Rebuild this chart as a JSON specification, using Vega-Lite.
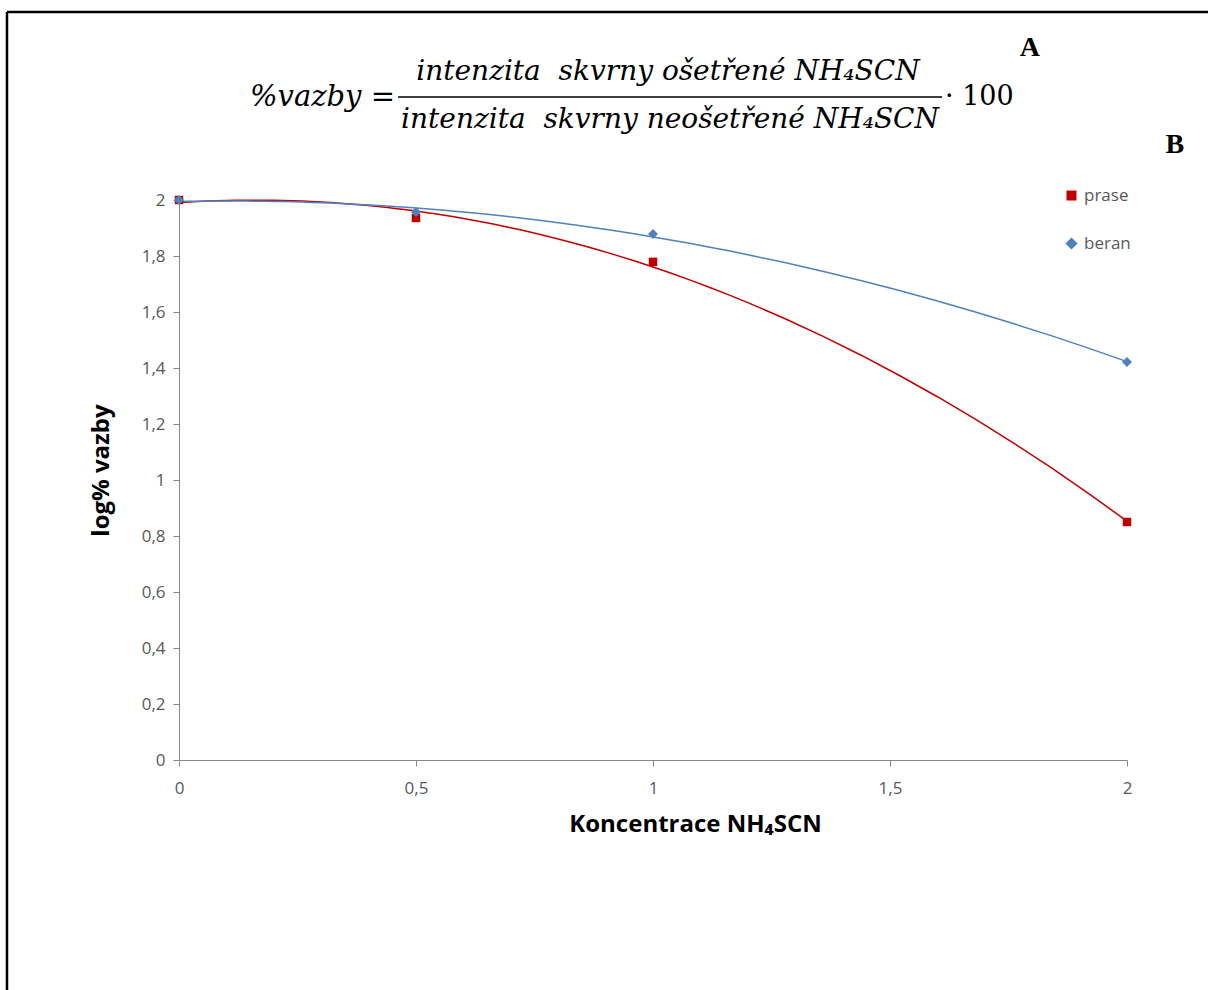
{
  "$schema": "https://vega.github.io/schema/vega-lite/v6.json",
  "width": 948,
  "height": 560,
  "autosize": {"type": "none"},
  "padding": {"left": 179, "top": 200, "right": 81, "bottom": 230},
  "background": "white",
  "config": {
    "view": {"stroke": null},
    "axis": {
      "grid": false,
      "domainColor": "#868686",
      "tickColor": "#868686",
      "tickSize": 6,
      "labelFont": "Open Sans",
      "labelFontSize": 17,
      "labelColor": "#595959",
      "titleFont": "Open Sans",
      "titleFontSize": 24,
      "titleFontWeight": "bold",
      "titleColor": "#000000"
    },
    "legend": {
      "orient": "none",
      "legendX": 884,
      "legendY": -13,
      "labelFont": "Open Sans",
      "labelFontSize": 17,
      "labelColor": "#595959",
      "symbolSize": 55,
      "rowPadding": 30
    }
  },
  "datasets": {
    "pts": [
      {"koncentrace": 0, "log_vazby": 2.0, "series": "prase"},
      {"koncentrace": 0.5, "log_vazby": 1.936, "series": "prase"},
      {"koncentrace": 1, "log_vazby": 1.779, "series": "prase"},
      {"koncentrace": 2, "log_vazby": 0.85, "series": "prase"},
      {"koncentrace": 0, "log_vazby": 2.0, "series": "beran"},
      {"koncentrace": 0.5, "log_vazby": 1.957, "series": "beran"},
      {"koncentrace": 1, "log_vazby": 1.879, "series": "beran"},
      {"koncentrace": 2, "log_vazby": 1.421, "series": "beran"}
    ]
  },
  "layer": [
    {
      "data": {"name": "pts"},
      "transform": [
        {"regression": "log_vazby", "on": "koncentrace", "groupby": ["series"], "method": "poly", "order": 2, "extent": [0, 2]}
      ],
      "mark": {"type": "line", "strokeWidth": 1.5},
      "encoding": {
        "x": {
          "field": "koncentrace", "type": "quantitative",
          "scale": {"domain": [0, 2], "nice": false, "zero": false},
          "axis": {
            "title": "Koncentrace NH₄SCN",
            "values": [0, 0.5, 1, 1.5, 2],
            "labelExpr": "replace(format(datum.value, '~g'), '.', ',')",
            "labelFlush": false,
            "labelPadding": 14,
            "titlePadding": 16,
            "titleX": 516
          }
        },
        "y": {
          "field": "log_vazby", "type": "quantitative",
          "scale": {"domain": [0, 2], "nice": false, "zero": false},
          "axis": {
            "title": "log% vazby",
            "values": [0, 0.2, 0.4, 0.6, 0.8, 1, 1.2, 1.4, 1.6, 1.8, 2],
            "labelExpr": "replace(format(datum.value, '.1~f'), '.', ',')",
            "labelPadding": 8,
            "titlePadding": 28,
            "titleY": 270
          }
        },
        "color": {
          "field": "series", "type": "nominal",
          "scale": {"domain": ["prase", "beran"], "range": ["#C00000", "#4F81BD"]},
          "legend": {"title": null}
        }
      }
    },
    {
      "data": {"name": "pts"},
      "mark": {"type": "point", "filled": true, "opacity": 1},
      "encoding": {
        "x": {
          "field": "koncentrace", "type": "quantitative",
          "scale": {"domain": [0, 2], "nice": false, "zero": false},
          "axis": {
            "title": "Koncentrace NH₄SCN",
            "values": [0, 0.5, 1, 1.5, 2],
            "labelExpr": "replace(format(datum.value, '~g'), '.', ',')",
            "labelFlush": false,
            "labelPadding": 14,
            "titlePadding": 16,
            "titleX": 516
          }
        },
        "y": {
          "field": "log_vazby", "type": "quantitative",
          "scale": {"domain": [0, 2], "nice": false, "zero": false},
          "axis": {
            "title": "log% vazby",
            "values": [0, 0.2, 0.4, 0.6, 0.8, 1, 1.2, 1.4, 1.6, 1.8, 2],
            "labelExpr": "replace(format(datum.value, '.1~f'), '.', ',')",
            "labelPadding": 8,
            "titlePadding": 28,
            "titleY": 270
          }
        },
        "color": {
          "field": "series", "type": "nominal",
          "scale": {"domain": ["prase", "beran"], "range": ["#C00000", "#4F81BD"]},
          "legend": {"title": null}
        },
        "shape": {
          "field": "series", "type": "nominal",
          "scale": {"domain": ["prase", "beran"], "range": ["square", "diamond"]},
          "legend": {"title": null}
        },
        "size": {
          "field": "series", "type": "nominal",
          "scale": {"domain": ["prase", "beran"], "range": [72, 100]},
          "legend": null
        }
      }
    },
    {
      "data": {"values": [{"t": "intenzita\u00a0 skvrny ošetřené NH₄SCN"}]},
      "mark": {"type": "text", "font": "DejaVu Serif", "fontStyle": "italic", "fontSize": 28, "align": "center", "baseline": "middle", "color": "#000000"},
      "encoding": {
        "x": {"datum": 1.0316, "type": "quantitative", "scale": {"domain": [0, 2], "nice": false, "zero": false}},
        "y": {"datum": 2.457, "type": "quantitative", "scale": {"domain": [0, 2], "nice": false, "zero": false}},
        "text": {"field": "t"}
      }
    },
    {
      "data": {"values": [{"t": "intenzita\u00a0 skvrny neošetřené NH₄SCN"}]},
      "mark": {"type": "text", "font": "DejaVu Serif", "fontStyle": "italic", "fontSize": 28, "align": "center", "baseline": "middle", "color": "#000000"},
      "encoding": {
        "x": {"datum": 1.036, "type": "quantitative", "scale": {"domain": [0, 2], "nice": false, "zero": false}},
        "y": {"datum": 2.286, "type": "quantitative", "scale": {"domain": [0, 2], "nice": false, "zero": false}},
        "text": {"field": "t"}
      }
    },
    {
      "data": {"values": [{"t": "%vazby ="}]},
      "mark": {"type": "text", "font": "DejaVu Serif", "fontStyle": "italic", "fontSize": 29, "align": "right", "baseline": "middle", "color": "#000000"},
      "encoding": {
        "x": {"datum": 0.4557, "type": "quantitative", "scale": {"domain": [0, 2], "nice": false, "zero": false}},
        "y": {"datum": 2.368, "type": "quantitative", "scale": {"domain": [0, 2], "nice": false, "zero": false}},
        "text": {"field": "t"}
      }
    },
    {
      "data": {"values": [{"t": "· 100"}]},
      "mark": {"type": "text", "font": "DejaVu Serif", "fontSize": 27, "align": "left", "baseline": "middle", "color": "#000000"},
      "encoding": {
        "x": {"datum": 1.616, "type": "quantitative", "scale": {"domain": [0, 2], "nice": false, "zero": false}},
        "y": {"datum": 2.368, "type": "quantitative", "scale": {"domain": [0, 2], "nice": false, "zero": false}},
        "text": {"field": "t"}
      }
    },
    {
      "data": {"values": [{"t": "fraction"}]},
      "mark": {"type": "rule", "color": "#000000", "strokeWidth": 1.5},
      "encoding": {
        "x": {"datum": 0.462, "type": "quantitative", "scale": {"domain": [0, 2], "nice": false, "zero": false}},
        "x2": {"datum": 1.61},
        "y": {"datum": 2.368, "type": "quantitative", "scale": {"domain": [0, 2], "nice": false, "zero": false}}
      }
    },
    {
      "data": {"values": [{"t": "A"}]},
      "mark": {"type": "text", "font": "Liberation Serif", "fontWeight": "bold", "fontSize": 28, "align": "center", "baseline": "middle", "color": "#000000"},
      "encoding": {
        "x": {"datum": 1.795, "type": "quantitative", "scale": {"domain": [0, 2], "nice": false, "zero": false}},
        "y": {"datum": 2.543, "type": "quantitative", "scale": {"domain": [0, 2], "nice": false, "zero": false}},
        "text": {"field": "t"}
      }
    },
    {
      "data": {"values": [{"t": "B"}]},
      "mark": {"type": "text", "font": "Liberation Serif", "fontWeight": "bold", "fontSize": 28, "align": "center", "baseline": "middle", "color": "#000000"},
      "encoding": {
        "x": {"datum": 2.101, "type": "quantitative", "scale": {"domain": [0, 2], "nice": false, "zero": false}},
        "y": {"datum": 2.196, "type": "quantitative", "scale": {"domain": [0, 2], "nice": false, "zero": false}},
        "text": {"field": "t"}
      }
    },
    {
      "data": {"values": [{"t": "frame top"}]},
      "mark": {"type": "rule", "color": "#000000", "strokeWidth": 2.5},
      "encoding": {
        "x": {"datum": -0.3629, "type": "quantitative", "scale": {"domain": [0, 2], "nice": false, "zero": false}},
        "x2": {"datum": 2.5},
        "y": {"datum": 2.671, "type": "quantitative", "scale": {"domain": [0, 2], "nice": false, "zero": false}}
      }
    },
    {
      "data": {"values": [{"t": "frame left"}]},
      "mark": {"type": "rule", "color": "#000000", "strokeWidth": 2.5},
      "encoding": {
        "x": {"datum": -0.3629, "type": "quantitative", "scale": {"domain": [0, 2], "nice": false, "zero": false}},
        "y": {"datum": 2.671, "type": "quantitative", "scale": {"domain": [0, 2], "nice": false, "zero": false}},
        "y2": {"datum": -1.2}
      }
    }
  ]
}
